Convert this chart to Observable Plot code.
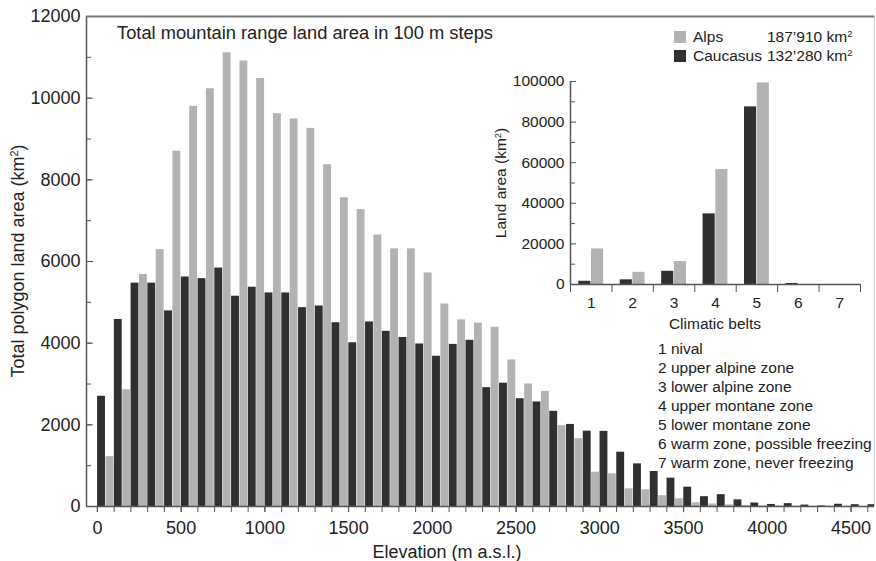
<!DOCTYPE html>
<html>
<head>
<meta charset="utf-8">
<script src="https://cdn.jsdelivr.net/npm/d3@7"></script>
<script src="https://cdn.jsdelivr.net/npm/@observablehq/plot@0.6"></script>
<style>
  body { margin: 0; background: #fff; }
  #wrap { position: relative; width: 876px; height: 561px; overflow: hidden;
          font-family: Arial, "Liberation Sans", Helvetica, sans-serif; color: #222; }
  .abs { position: absolute; white-space: nowrap; line-height: 1; }
  #wrap svg { position: absolute; overflow: visible; }
  sup { font-size: 0.6em; vertical-align: 0; position: relative; top: -0.55em; }
</style>
</head>
<body>
<div id="wrap"></div>
<script>
// ---------- data ----------
const elevations = [0,100,200,300,400,500,600,700,800,900,1000,1100,1200,1300,1400,1500,1600,1700,1800,1900,
  2000,2100,2200,2300,2400,2500,2600,2700,2800,2900,3000,3100,3200,3300,3400,3500,3600,3700,3800,3900,
  4000,4100,4200,4300,4400,4500,4600];
const caucasusArea = [2700,4580,5470,5470,4790,5620,5580,5840,5150,5370,5230,5230,4870,4910,4500,4010,4520,4290,4140,3980,
  3680,3970,4070,2910,3020,2640,2560,2330,2010,1845,1840,1330,1045,857,694,473,240,290,163,85,
  50,70,35,15,55,45,45];
const alpsArea = [1220,2860,5680,6290,8700,9800,10230,11110,10910,10480,9620,9490,9260,8370,7560,7270,6650,6310,6310,5720,
  4960,4570,4490,4390,3590,3000,2820,1980,1660,840,800,433,410,265,190,90,60,40,25,15,
  10,8,5,3,2,1,1];

const belts = [1,2,3,4,5,6,7];
const beltNames = ["nival","upper alpine zone","lower alpine zone","upper montane zone","lower montane zone",
  "warm zone, possible freezing","warm zone, never freezing"];
const beltCaucasus = [1600,2300,6500,34800,87500,500,0];
const beltAlps = [17500,6000,11300,56600,99300,0,0];

const seriesNames = ["Alps","Caucasus"];
const seriesTotals = ["187’910","132’280"];

const xTickLabels = [0,500,1000,1500,2000,2500,3000,3500,4000,4500];
const yTickLabels = [0,2000,4000,6000,8000,10000,12000];
const insetYTickLabels = [0,20000,40000,60000,80000,100000];

const title = "Total mountain range land area in 100 m steps";
const xLabel = "Elevation (m a.s.l.)";
const yLabel = "Total polygon land area (km²)";
const insetXLabel = "Climatic belts";
const insetYLabel = "Land area (km²)";

// ---------- styles ----------
const grey = "#b2b2b2";
const dark = "#303030";
const axisCol = "#555";
const binStep = 100;
const xDomain = [-65, 4640];
const yDomain = [0, 12000];

const cauRows = elevations.map((e, i) => ({e, v: caucasusArea[i]}));
const alpRows = elevations.map((e, i) => ({e, v: alpsArea[i]}));
const minorX = elevations.concat([4700]).filter(e => e <= xDomain[1]);
const minorY = d3.range(yDomain[0], yDomain[1] + 1, 1000);

const fmt = d3.format("d");

const main = Plot.plot({
  width: 876, height: 561,
  marginLeft: 86, marginRight: 2, marginTop: 16, marginBottom: 55,
  x: {domain: xDomain},
  y: {domain: yDomain},
  style: {fontFamily: "Arial, 'Liberation Sans', sans-serif", fontSize: "18px", color: "#222", background: "transparent"},
  marks: [
    Plot.rectY(cauRows, {x1: d => d.e, x2: d => d.e + binStep / 2, y: "v", fill: dark, insetLeft: 0.2, insetRight: 0.3, clip: true}),
    Plot.rectY(alpRows, {x1: d => d.e + binStep / 2, x2: d => d.e + binStep, y: "v", fill: grey, insetLeft: 0.2, insetRight: 0.3, clip: true}),
    Plot.axisY({ticks: yTickLabels, tickSize: -7, tickPadding: 13, tickFormat: fmt, stroke: axisCol, label: null}),
    Plot.axisY({ticks: minorY, tickSize: -5, tickFormat: () => "", stroke: axisCol, label: null}),
    Plot.axisX({ticks: xTickLabels, tickSize: 6, tickPadding: 9, tickFormat: fmt, stroke: axisCol, label: null}),
    Plot.axisX({ticks: minorX, tickSize: 6, tickFormat: () => "", stroke: axisCol, label: null}),
    Plot.ruleX([xDomain[0]], {stroke: axisCol, strokeWidth: 1.5}),
    Plot.ruleY([yDomain[0]], {stroke: axisCol, strokeWidth: 1.5}),
    Plot.ruleY([yDomain[1]], {stroke: "#777", strokeWidth: 2}),
    Plot.ruleX([xDomain[1]], {stroke: "#ccc", strokeWidth: 1})
  ]
});
main.style.left = "0px"; main.style.top = "0px";

const beltCRows = belts.map((b, i) => ({b, v: beltCaucasus[i]}));
const beltARows = belts.map((b, i) => ({b, v: beltAlps[i]}));
const beltBounds = d3.range(0.5, 7.6, 1);

const inset = Plot.plot({
  width: 380, height: 280,
  marginLeft: 80, marginRight: 10, marginTop: 21, marginBottom: 56,
  x: {domain: [0.5, 7.5]},
  y: {domain: [0, 100000]},
  style: {fontFamily: "Arial, 'Liberation Sans', sans-serif", fontSize: "15.5px", color: "#222", background: "transparent"},
  marks: [
    Plot.rectY(beltCRows, {x1: d => d.b - 0.3, x2: d => d.b, y: "v", fill: dark, insetRight: 0.3}),
    Plot.rectY(beltARows, {x1: d => d.b, x2: d => d.b + 0.3, y: "v", fill: grey, insetLeft: 0.3}),
    Plot.axisY({ticks: insetYTickLabels, tickSize: -6, tickPadding: 12, tickFormat: fmt, stroke: axisCol, label: null}),
    Plot.axisY({ticks: d3.range(10000, 100000, 20000), tickSize: -5, tickFormat: () => "", stroke: axisCol, label: null}),
    Plot.axisX({ticks: belts, tickSize: 0, tickPadding: 12, tickFormat: fmt, label: null}),
    Plot.axisX({ticks: beltBounds, tickSize: 8, tickFormat: () => "", stroke: axisCol, label: null}),
    Plot.ruleX([0.5], {stroke: axisCol, strokeWidth: 1.5}),
    Plot.ruleY([0], {stroke: axisCol, strokeWidth: 1.5})
  ]
});
inset.style.left = "490px"; inset.style.top = "60px";

const wrap = document.getElementById("wrap");
wrap.appendChild(main);
wrap.appendChild(inset);

function addDiv(html, css) {
  const d = document.createElement("div");
  d.className = "abs";
  d.innerHTML = html;
  Object.assign(d.style, css);
  wrap.appendChild(d);
  return d;
}
const sup2 = s => s.replace("²", "<sup>2</sup>");

// title
addDiv(title, {left: "117px", top: "24px", fontSize: "18.3px"});
// axis labels
addDiv(xLabel, {left: "447px", top: "545px", fontSize: "18px", lineHeight: "15px", transform: "translateX(-50%)"});
addDiv(sup2(yLabel), {left: "18px", top: "261px", fontSize: "18px", transform: "translate(-50%,-50%) rotate(-90deg)"});
addDiv(insetXLabel, {left: "715px", top: "316px", fontSize: "15.5px", transform: "translateX(-50%)"});
addDiv(sup2(insetYLabel), {left: "501px", top: "183px", fontSize: "15.5px", transform: "translate(-50%,-50%) rotate(-90deg)"});

// legend
const legendColors = [grey, dark];
seriesNames.forEach((name, i) => {
  const top = 29 + i * 18.7;
  addDiv("", {left: "674px", top: (top + 2) + "px", width: "12px", height: "12px", background: legendColors[i]});
  addDiv(name, {left: "693px", top: top + "px", fontSize: "15.5px"});
  addDiv(seriesTotals[i] + " km<sup>2</sup>", {left: "767px", top: top + "px", fontSize: "15.5px"});
});

// belt list
const list = addDiv(belts.map((b, i) => b + " " + beltNames[i]).join("<br>"),
  {left: "658px", top: "339px", fontSize: "15.5px", lineHeight: "19px"});
</script>
</body>
</html>
